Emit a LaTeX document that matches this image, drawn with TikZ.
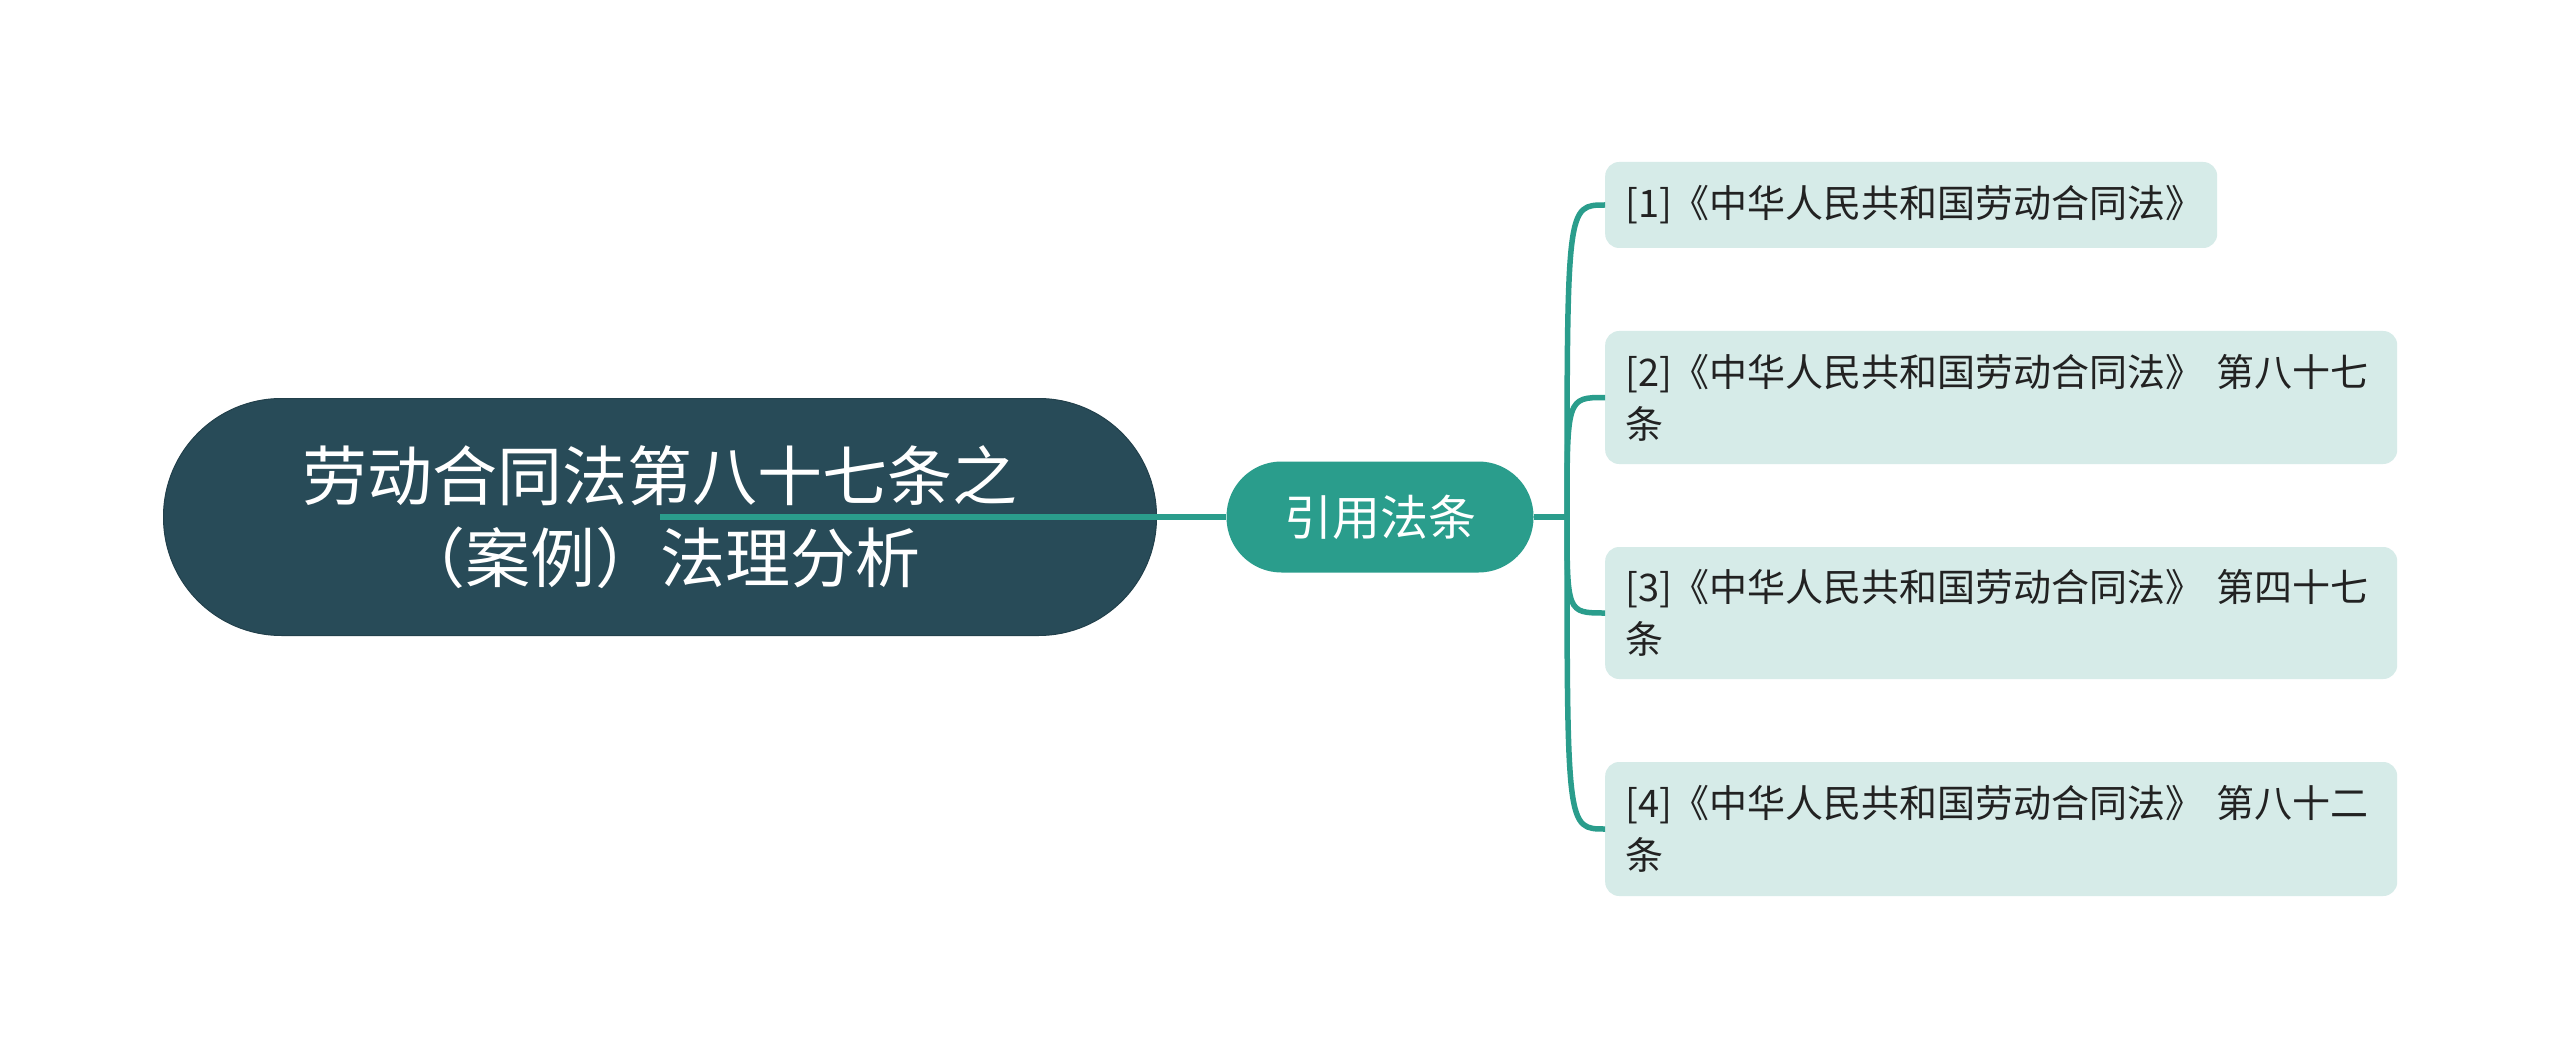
\documentclass[tikz,border=0pt]{standalone}
\usepackage{fontspec}
\setmainfont{Noto Sans CJK SC}
\definecolor{rootfill}{HTML}{284B58}
\definecolor{midfill}{HTML}{2A9D8C}
\definecolor{leaffill}{HTML}{D6EBE8}
\definecolor{leaftext}{HTML}{222222}
\definecolor{linecol}{HTML}{2A9D8C}
\begin{document}
\begin{tikzpicture}[x=1pt,y=-1pt,
  rootbox/.style={fill=rootfill, draw=rootfill!85!black, line width=1pt,
    rounded corners=118pt, minimum width=993pt, minimum height=237pt,
    inner sep=0pt, text=white, align=center,
    font=\fontsize{65}{82}\selectfont},
  midbox/.style={fill=midfill, rounded corners=55pt, minimum width=307pt,
    minimum height=111pt, inner sep=0pt, text=white,
    font=\fontsize{48}{58}\selectfont},
  leafbox/.style={fill=leaffill, rounded corners=14pt, inner xsep=20pt,
    inner ysep=0pt, text=leaftext, align=left, anchor=west,
    font=\fontsize{38}{52}\selectfont},
  conn/.style={draw=linecol, line width=5.5pt}
]
\useasboundingbox (0,0) rectangle (2560,1059);
\fill[white] (0,0) rectangle (2560,1059);

\node[rootbox] (root) at (660,517) {劳动合同法第八十七条之\\（案例）法理分析};
\node[midbox] (mid) at (1380,517) {引用法条};

\node[leafbox, text width=572pt, minimum height=86pt] (l1) at (1605,205)
  {[1]《中华人民共和国劳动合同法》};
\node[leafbox, text width=752pt, minimum height=133pt] (l2) at (1605,397.5)
  {[2]《中华人民共和国劳动合同法》 第八十七\\条};
\node[leafbox, text width=752pt, minimum height=132pt] (l3) at (1605,613)
  {[3]《中华人民共和国劳动合同法》 第四十七\\条};
\node[leafbox, text width=752pt, minimum height=134pt] (l4) at (1605,829)
  {[4]《中华人民共和国劳动合同法》 第八十二\\条};

\draw[conn] (root.center) -- (mid.west);
\coordinate (t) at (1567,517);
\draw[conn] (mid.east) -- (t);
\foreach \l in {l1,l2,l3,l4}
  \draw[conn] (t) .. controls (t |- \l.west) .. (\l.west);
\end{tikzpicture}
\end{document}
